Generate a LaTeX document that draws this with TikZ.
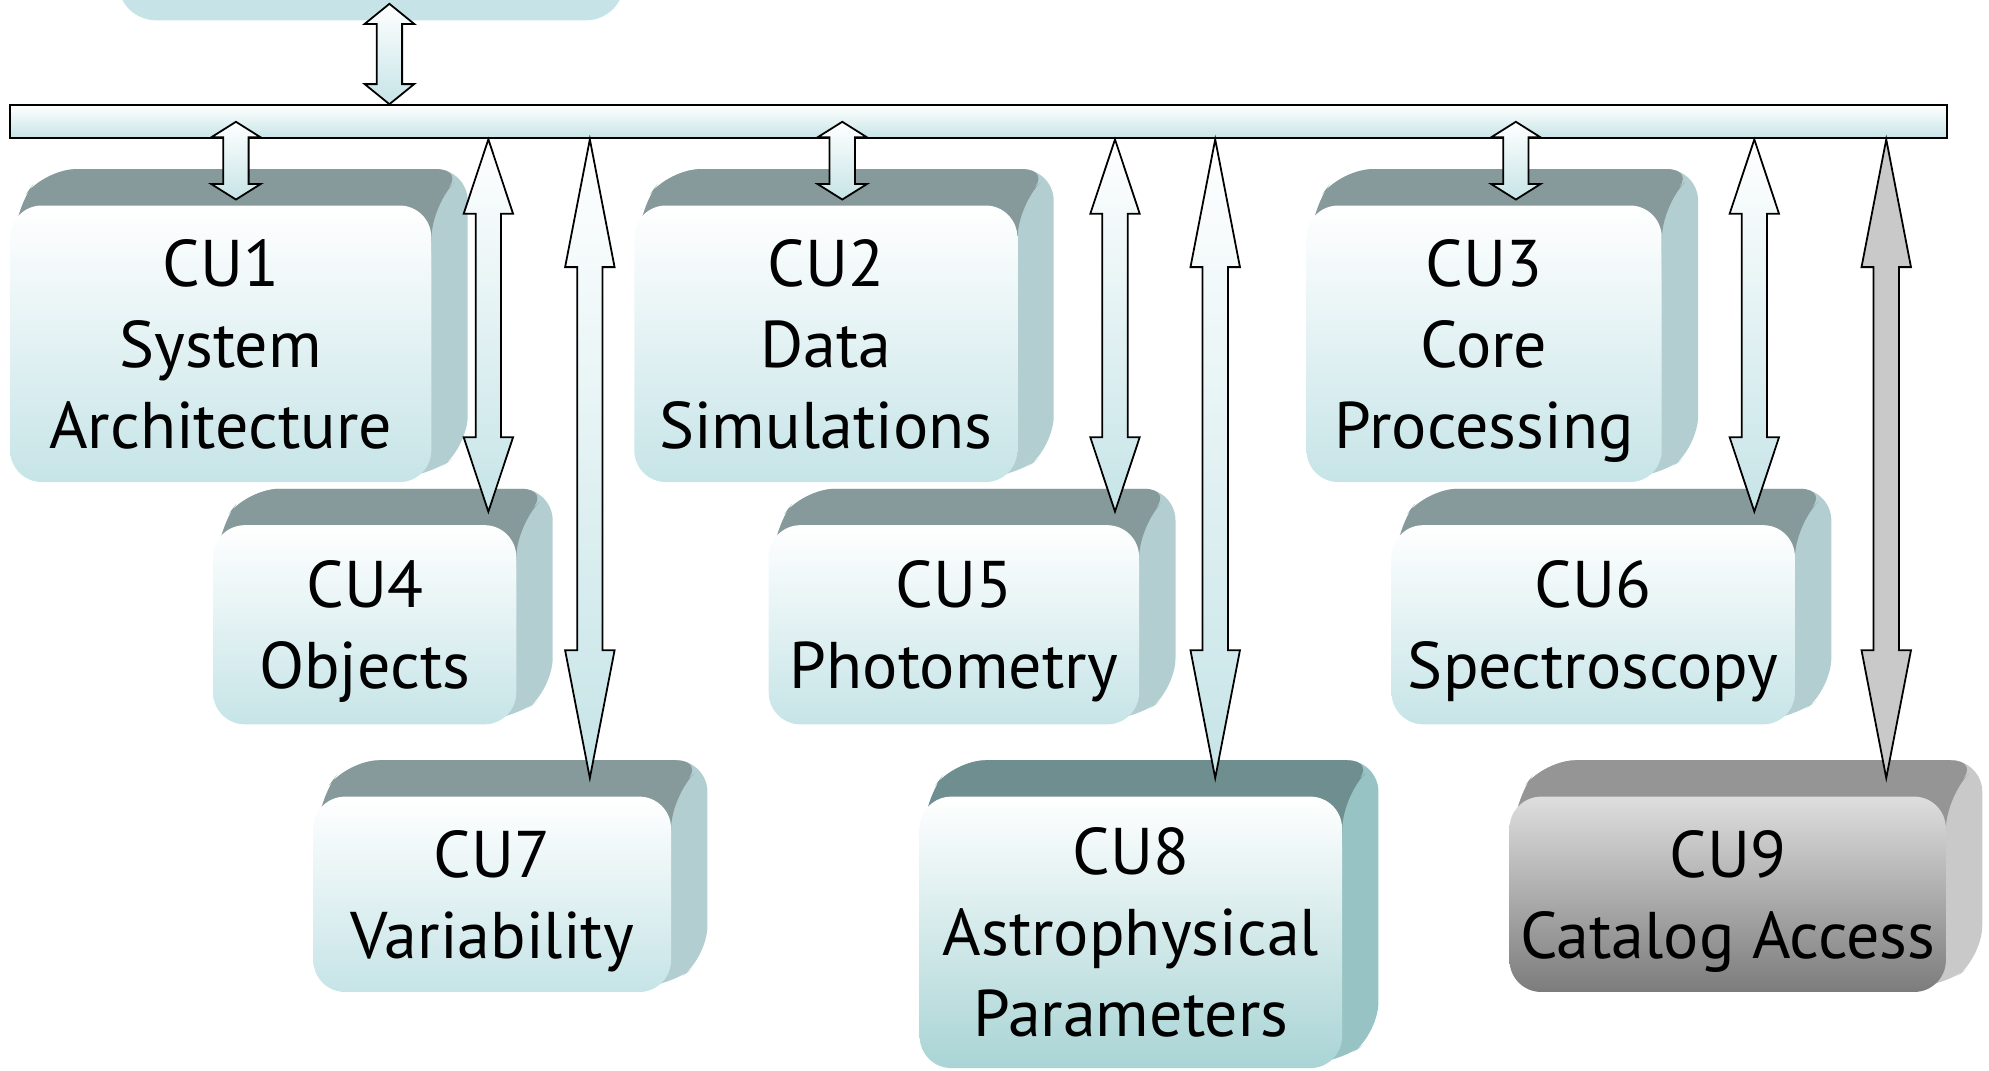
\documentclass[tikz,border=0pt]{standalone}
\usepackage{fontspec}
\setmainfont{PT Sans}
\usetikzlibrary{calc, backgrounds}

\definecolor{facecyan}{HTML}{C6E4E7}
\definecolor{topteal}{HTML}{86999B}
\definecolor{sideteal}{HTML}{B3CED1}
\definecolor{facedeep}{HTML}{A9D4D5}
\definecolor{topdeep}{HTML}{6F8E90}
\definecolor{sidedeep}{HTML}{98C3C4}
\definecolor{faceltgrey}{HTML}{DEDEDE}
\definecolor{facegrey}{HTML}{7C7C7C}
\definecolor{topgrey}{HTML}{959595}
\definecolor{sidegrey}{HTML}{C9C9C9}

% block arrow with a head at both ends, from #2 down to #3
\newcommand{\dblarrow}[3][]{%
  \path[draw, line width=0.4pt, top color=white, bottom color=facecyan, #1]
    let \p1=(#2), \p2=(#3), \p3=(\x1,0.8*\y1+0.2*\y2), \p4=(\x1,0.2*\y1+0.8*\y2) in
    (\p1) -- (\x1+1.95mm,\y3) -- (\x1+1mm,\y3) -- (\x1+1mm,\y4) -- (\x1+1.95mm,\y4) -- (\x1,\y2)
    -- (\x1-1.95mm,\y4) -- (\x1-1mm,\y4) -- (\x1-1mm,\y3) -- (\x1-1.95mm,\y3) -- cycle;}

% top and right side of a box, behind node #1
\newcommand{\boxback}[3]{%
  \begin{scope}[on background layer, rounded corners=2.5mm]
    \fill[#3] ([shift={(0.4mm,0.4mm)}]#1.south west) -- ([shift={(0.4mm,-0.4mm)}]#1.north west)
      -- ([shift={(2.8mm,2.8mm)}]#1.north west) -- ([shift={(2.8mm,2.8mm)}]#1.north east)
      -- ([shift={(2.8mm,2.8mm)}]#1.south east) -- ([shift={(-0.4mm,0.4mm)}]#1.south east) -- cycle;
    \fill[#2] ([shift={(0.4mm,0.4mm)}]#1.south west) -- ([shift={(0.4mm,-0.4mm)}]#1.north west)
      -- ([shift={(2.8mm,2.8mm)}]#1.north west) -- ([shift={(2.8mm,2.8mm)}]#1.north east)
      -- (#1.north east) -- ([shift={(-0.4mm,0.4mm)}]#1.south east) -- cycle;
  \end{scope}}

\begin{document}
\begin{tikzpicture}[x=0.1mm, y=-0.1mm,
  face/.style={rectangle, rounded corners=2.5mm, top color=white, bottom color=facecyan, align=center, inner sep=0pt, text depth=0pt, font=\fontsize{14.8}{18.2}\selectfont},
  busbar/.style={rectangle, draw=black, line width=0.5pt, top color=white, bottom color=facecyan, minimum width=152.7mm, minimum height=2.6mm, inner sep=0pt},
  topbox/.style={rectangle, rounded corners=3mm, fill=facecyan, minimum width=39.9mm, minimum height=8mm}]

  \useasboundingbox (0,0) rectangle (1568,844);

  % Box above the bus (only its lower edge is in view)
  \node[topbox] (dpc) at (292.5,-24) {};

  % The bus
  \node[busbar] (bus) at (771.5,96) {};

  % Row 1: CU1 CU2 CU3
  \node[face, minimum width=33.2mm, minimum height=21.8mm] (cu1) at (174,271) {CU1\\System\\Architecture};
  \node[face, minimum width=30.2mm, minimum height=21.8mm] (cu2) at (651,271) {CU2\\Data\\Simulations};
  \node[face, minimum width=28.0mm, minimum height=21.8mm] (cu3) at (1170,271) {CU3\\Core\\Processing};

  % Row 2: CU4 CU5 CU6
  \node[face, minimum width=23.9mm, minimum height=15.7mm] (cu4) at (287.5,492.5) {CU4\\Objects};
  \node[face, minimum width=29.2mm, minimum height=15.7mm] (cu5) at (752,492.5) {CU5\\Photometry};
  \node[face, minimum width=31.8mm, minimum height=15.7mm] (cu6) at (1256,492.5) {CU6\\Spectroscopy};

  % Row 3: CU7 CU8 CU9
  \node[face, minimum width=28.2mm, minimum height=15.4mm] (cu7) at (388,705) {CU7\\Variability};
  \node[face, bottom color=facedeep, minimum width=33.3mm, minimum height=21.4mm] (cu8) at (891.5,735) {CU8\\Astrophysical\\Parameters};
  \node[face, top color=faceltgrey, bottom color=facegrey, minimum width=34.4mm, minimum height=15.4mm] (cu9) at (1362,705) {CU9\\Catalog Access};

  % Top and side of each box
  \foreach \i in {1,...,7} {\boxback{cu\i}{topteal}{sideteal}}
  \boxback{cu8}{topdeep}{sidedeep}
  \boxback{cu9}{topgrey}{sidegrey}

  % Arrow from the box above into the bus
  \coordinate (feed) at (307,3);
  \dblarrow{feed}{bus.north -| feed}

  % Short arrows: bus to row 1
  \foreach \i/\px in {1/186, 2/664, 3/1195} {
    \coordinate (s\i) at (\px,96);
    \dblarrow{s\i}{$(cu\i.north -| s\i)+(0,0.4mm)$}
  }

  % Long arrows: bus to row 2 and row 3
  \foreach \i/\px in {4/385, 5/879, 6/1383} {
    \coordinate (b\i) at (\px,0);
    \dblarrow{bus.south -| b\i}{$(cu\i.north -| b\i)+(0,1mm)$}
  }
  \foreach \i/\px in {7/465, 8/958} {
    \coordinate (b\i) at (\px,0);
    \dblarrow{bus.south -| b\i}{$(cu\i.north -| b\i)+(0,1.4mm)$}
  }
  \coordinate (b9) at (1487,0);
  \dblarrow[top color=sidegrey, bottom color=sidegrey]{bus.south -| b9}{$(cu9.north -| b9)+(0,1.4mm)$}

\end{tikzpicture}
\end{document}
